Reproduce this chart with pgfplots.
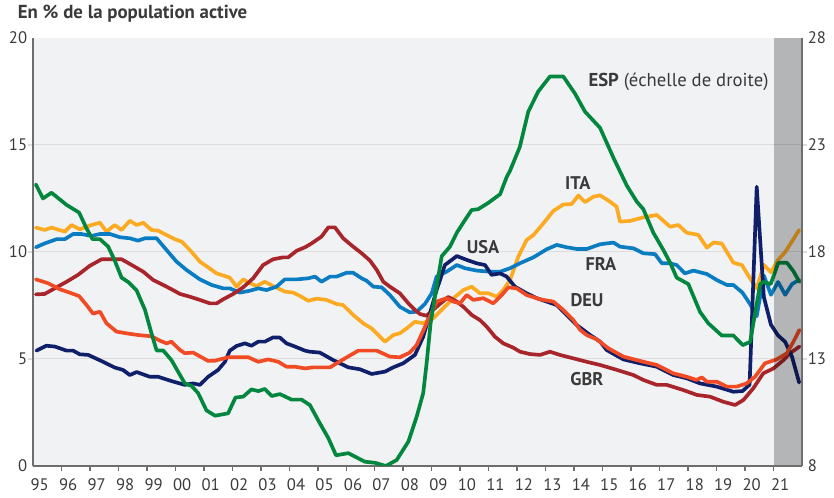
\documentclass[border=0pt]{standalone}
\usepackage{fontspec}
\setmainfont{PT Sans}
\usepackage{pgfplots}
\pgfplotsset{compat=1.18}

\definecolor{ita}{HTML}{FBAA22}
\definecolor{fra}{HTML}{0A7CC1}
\definecolor{usa}{HTML}{101F6A}
\definecolor{redor}{HTML}{F04B24}
\definecolor{dred}{HTML}{A8252B}
\definecolor{esp}{HTML}{03873F}
\definecolor{bgc}{HTML}{F1F2F4}
\definecolor{axisc}{HTML}{6E6E70}
\definecolor{gridc}{HTML}{DCDCDE}
\definecolor{labc}{HTML}{3A3A3A}

\tikzset{lab/.style={text=labc, font=\bfseries\fontsize{11}{13}\selectfont}}

\begin{document}
\begin{tikzpicture}
\useasboundingbox (-19.8pt,-19.2pt) rectangle (480.6pt,279.6pt);
\pgfplotsset{
  every axis/.append style={
    scale only axis, width=461.4pt, height=256.8pt,
    xmin=1995, xmax=2022,
    /pgf/number format/assume math mode=true,
    tick label style={font=\fontsize{10}{12}\selectfont, text=labc},
    major tick length=0pt, minor tick length=3pt, tick align=outside,
    axis line style={-, draw=axisc, line width=1.4pt},
  },
  series/.style={line width=2.2pt, line join=round, line cap=round, no marks},
}

\begin{axis}[
  axis x line*=bottom, axis y line*=left,
  axis background/.style={fill=bgc},
  ymin=0, ymax=20,
  ytick={0,5,10,15,20},
  minor ytick={5,10,15},
  yminorgrids=true,
  minor grid style={draw=gridc, line width=0.6pt},
  ytick style={draw=gridc, line width=0.8pt},
  xtick style={draw=axisc, line width=0.9pt},
  xtick={1995.5,1996.5,...,2021.5},
  xticklabels={95,96,97,98,99,00,01,02,03,04,05,06,07,08,09,10,11,12,13,14,15,16,17,18,19,20,21},
  minor xtick={1996,1997,...,2021},
  xticklabel style={yshift=-4pt, xshift=-4.5pt},
]
% ITA
\addplot[series, ita] coordinates {
(1995.10,11.14)(1995.41,11.03)(1995.65,11.14)(1996.12,10.95)(1996.35,11.26)(1996.64,11.06)
(1997.05,11.26)(1997.35,11.37)(1997.58,10.95)(1997.87,11.26)(1998.11,11.03)(1998.40,11.46)
(1998.64,11.26)(1998.87,11.37)(1999.16,11.03)(1999.39,11.00)(1999.69,10.79)(1999.98,10.60)
(2000.22,10.48)(2000.51,10.09)(2000.86,9.55)(2001.15,9.28)(2001.45,9.00)(2001.91,8.80)
(2002.15,8.38)(2002.38,8.72)(2002.61,8.54)(2002.85,8.41)(2003.14,8.61)(2003.43,8.41)
(2003.84,8.15)(2004.14,8.10)(2004.37,7.95)(2004.66,7.72)(2004.96,7.82)(2005.31,7.76)
(2005.66,7.57)(2005.89,7.52)(2006.24,7.06)(2006.59,6.67)(2006.89,6.43)(2007.12,6.12)
(2007.36,5.81)(2007.65,6.12)(2007.88,6.20)(2008.12,6.43)(2008.41,6.74)(2008.70,6.67)
(2009.05,6.90)(2009.40,7.37)(2009.76,7.84)(2010.11,8.22)(2010.40,8.38)(2010.69,8.07)
(2010.99,8.07)(2011.28,7.91)(2011.51,8.22)(2011.75,8.69)(2012.04,9.78)(2012.33,10.56)
(2012.57,10.79)(2012.92,11.34)(2013.27,11.92)(2013.62,12.22)(2013.91,12.24)(2014.15,12.64)
(2014.38,12.33)(2014.67,12.58)(2014.91,12.65)(2015.26,12.35)(2015.49,12.12)(2015.61,11.42)
(2015.96,11.45)(2016.43,11.62)(2016.90,11.73)(2017.37,11.18)(2017.66,11.26)(2017.95,10.90)
(2018.36,10.80)(2018.66,10.20)(2018.89,10.44)(2019.18,10.40)(2019.59,9.50)(2019.89,9.39)
(2020.16,8.80)(2020.41,8.30)(2020.66,9.40)(2020.91,9.05)(2021.16,9.63)(2021.41,10.00)
(2021.65,10.50)(2021.90,11.03)};
% FRA
\addplot[series, fra] coordinates {
(1995.10,10.22)(1995.41,10.40)(1995.83,10.60)(1996.12,10.60)(1996.41,10.84)(1996.70,10.84)
(1997.05,10.75)(1997.35,10.84)(1997.70,10.84)(1998.05,10.69)(1998.40,10.64)(1998.69,10.53)
(1998.93,10.64)(1999.34,10.64)(1999.69,10.09)(2000.04,9.55)(2000.39,9.16)(2000.86,8.72)
(2001.27,8.46)(2001.68,8.30)(2001.91,8.30)(2002.26,8.10)(2002.61,8.19)(2002.91,8.30)
(2003.20,8.22)(2003.55,8.38)(2003.84,8.72)(2004.26,8.72)(2004.66,8.77)(2004.90,8.85)
(2005.13,8.61)(2005.43,8.85)(2005.66,8.85)(2006.01,9.03)(2006.24,9.03)(2006.54,8.77)
(2006.71,8.66)(2006.95,8.38)(2007.24,8.35)(2007.53,7.99)(2007.88,7.44)(2008.23,7.18)
(2008.47,7.21)(2008.76,7.57)(2009.00,8.07)(2009.17,8.85)(2009.52,9.08)(2009.88,9.39)
(2010.17,9.24)(2010.58,9.13)(2011.04,9.08)(2011.40,9.08)(2011.75,9.24)(2012.09,9.47)
(2012.57,9.75)(2013.04,10.13)(2013.39,10.33)(2013.74,10.22)(2014.09,10.14)(2014.44,10.14)
(2014.91,10.36)(2015.38,10.44)(2015.61,10.25)(2016.08,10.17)(2016.43,9.94)(2016.84,9.90)
(2017.08,9.47)(2017.37,9.47)(2017.60,9.39)(2017.89,9.00)(2018.19,9.13)(2018.66,8.97)
(2019.01,8.69)(2019.36,8.46)(2019.59,8.46)(2019.91,8.10)(2020.16,7.60)(2020.41,7.00)
(2020.66,8.90)(2020.91,8.00)(2021.16,8.60)(2021.41,8.00)(2021.65,8.50)(2021.90,8.70)};
% dark red
\addplot[series, dred] coordinates {
(1995.10,8.02)(1995.41,8.04)(1995.83,8.35)(1996.18,8.61)(1996.58,8.93)(1996.99,9.35)
(1997.41,9.66)(1997.76,9.66)(1998.11,9.66)(1998.52,9.35)(1998.87,9.08)(1999.22,8.69)
(1999.57,8.46)(1999.86,8.26)(2000.16,8.04)(2000.51,7.91)(2000.86,7.76)(2001.21,7.60)
(2001.45,7.60)(2001.68,7.79)(2002.03,8.04)(2002.38,8.35)(2002.73,8.77)(2003.08,9.39)
(2003.43,9.66)(2003.78,9.75)(2003.96,9.75)(2004.26,10.06)(2004.55,10.22)(2004.78,10.40)
(2005.13,10.72)(2005.37,11.15)(2005.60,11.15)(2005.89,10.64)(2006.24,10.25)(2006.54,9.94)
(2006.83,9.60)(2007.07,9.16)(2007.30,8.61)(2007.53,8.38)(2007.88,8.07)(2008.18,7.60)
(2008.41,7.29)(2008.59,7.10)(2008.82,7.02)(2009.17,7.44)(2009.58,7.90)(2009.88,7.68)
(2010.11,7.44)(2010.40,7.06)(2010.69,6.82)(2010.93,6.51)(2011.22,6.04)(2011.51,5.73)
(2011.86,5.53)(2012.10,5.34)(2012.45,5.23)(2012.80,5.19)(2013.15,5.34)(2013.50,5.19)
(2013.97,5.03)(2014.44,4.87)(2014.91,4.72)(2015.50,4.49)(2016.08,4.25)(2016.43,4.02)
(2016.90,3.79)(2017.25,3.79)(2017.83,3.55)(2018.31,3.32)(2018.77,3.24)(2019.24,3.00)
(2019.65,2.85)(2019.94,3.08)(2020.29,3.63)(2020.64,4.33)(2021.00,4.56)(2021.35,4.95)
(2021.58,5.27)(2021.91,5.58)};
% USA
\addplot[series, usa] coordinates {
(1995.12,5.39)(1995.47,5.62)(1995.77,5.58)(1996.18,5.39)(1996.41,5.39)(1996.64,5.22)
(1996.94,5.19)(1997.46,4.87)(1997.87,4.60)(1998.16,4.49)(1998.40,4.25)(1998.64,4.39)
(1999.10,4.17)(1999.39,4.17)(1999.86,3.97)(2000.33,3.79)(2000.62,3.86)(2000.86,3.79)
(2001.15,4.17)(2001.50,4.49)(2001.74,4.87)(2001.91,5.39)(2002.15,5.61)(2002.44,5.73)
(2002.67,5.62)(2002.91,5.81)(2003.14,5.81)(2003.43,6.01)(2003.67,6.00)(2003.90,5.73)
(2004.20,5.58)(2004.55,5.39)(2004.72,5.34)(2005.07,5.30)(2005.54,4.95)(2006.07,4.61)
(2006.48,4.52)(2006.89,4.30)(2007.36,4.41)(2007.65,4.61)(2008.00,4.80)(2008.41,5.19)
(2008.70,6.04)(2008.94,7.14)(2009.17,8.22)(2009.29,8.69)(2009.46,9.39)(2009.88,9.81)
(2010.23,9.63)(2010.58,9.47)(2010.87,9.39)(2011.10,8.93)(2011.40,9.00)(2011.63,8.85)
(2011.92,8.38)(2012.33,8.07)(2012.69,7.84)(2013.04,7.68)(2013.39,7.52)(2013.74,7.06)
(2014.09,6.59)(2014.56,6.12)(2014.91,5.81)(2015.14,5.42)(2015.73,4.98)(2016.31,4.80)
(2016.90,4.64)(2017.48,4.25)(2017.95,4.10)(2018.42,3.86)(2019.00,3.71)(2019.59,3.47)
(2019.91,3.50)(2020.16,3.80)(2020.41,13.05)(2020.66,7.90)(2020.91,6.60)(2021.16,6.10)
(2021.41,5.80)(2021.65,5.10)(2021.90,3.90)};
% red-orange
\addplot[series, redor] coordinates {
(1995.10,8.72)(1995.53,8.54)(1995.94,8.26)(1996.29,8.10)(1996.62,7.94)(1996.88,7.52)
(1997.11,7.12)(1997.35,7.21)(1997.58,6.67)(1997.93,6.28)(1998.28,6.20)(1998.69,6.12)
(1999.16,6.06)(1999.45,5.86)(1999.69,5.73)(1999.86,5.81)(2000.16,5.42)(2000.33,5.27)
(2000.62,5.30)(2001.15,4.91)(2001.39,4.92)(2001.85,5.08)(2002.20,5.08)(2002.56,5.08)
(2002.91,4.87)(2003.26,4.98)(2003.61,4.87)(2003.90,4.64)(2004.20,4.64)(2004.55,4.56)
(2004.84,4.61)(2005.43,4.61)(2005.89,4.98)(2006.42,5.39)(2007.07,5.39)(2007.53,5.11)
(2007.88,5.08)(2008.23,5.30)(2008.47,5.65)(2008.82,6.67)(2009.17,7.68)(2009.52,7.84)
(2009.76,7.68)(2009.99,7.60)(2010.23,7.99)(2010.46,7.76)(2010.81,7.84)(2011.16,7.60)
(2011.46,7.99)(2011.69,8.35)(2011.98,8.30)(2012.33,7.99)(2012.80,7.79)(2013.27,7.68)
(2013.62,7.29)(2013.97,6.82)(2014.21,6.36)(2014.44,6.12)(2014.79,5.92)(2015.20,5.50)
(2015.73,5.11)(2016.43,4.87)(2016.90,4.72)(2017.48,4.33)(2017.95,4.17)(2018.30,4.02)
(2018.48,4.14)(2018.66,3.94)(2019.01,3.94)(2019.36,3.71)(2019.71,3.71)(2020.06,3.86)
(2020.35,4.17)(2020.70,4.80)(2021.11,4.98)(2021.47,5.27)(2021.70,5.81)(2021.91,6.36)};

\node[anchor=west, text=labc, font=\fontsize{11.2}{13}\selectfont] at (axis cs:2014.3,17.95) {\textbf{ESP} (échelle de droite)};
\node[lab] at (axis cs:2014.13,13.22) {ITA};
\node[lab] at (axis cs:2010.8,10.23) {USA};
\node[lab] at (axis cs:2014.94,9.44) {FRA};
\node[lab] at (axis cs:2014.45,7.76) {DEU};
\node[lab] at (axis cs:2014.45,4.07) {GBR};
\end{axis}

\begin{axis}[
  axis y line*=right, axis x line=none,
  ymin=8, ymax=28,
  ytick={8,13,18,23,28},
  minor ytick={13,18,23},
  ytick style={draw=gridc, line width=0.8pt},
  xtick=\empty,
]
% ESP, right-hand scale
\addplot[series, esp] coordinates {
(1995.10,21.16)(1995.35,20.50)(1995.65,20.77)(1996.18,20.20)(1996.62,19.84)(1996.88,19.10)
(1997.09,18.60)(1997.35,18.60)(1997.64,18.25)(1997.87,17.60)(1998.11,16.80)(1998.34,16.60)
(1998.64,16.20)(1998.93,15.30)(1999.16,14.20)(1999.34,13.40)(1999.57,13.40)(1999.86,12.95)
(2000.33,11.86)(2000.57,11.74)(2000.80,11.40)(2001.09,10.60)(2001.39,10.35)(2001.85,10.46)
(2002.11,11.20)(2002.38,11.24)(2002.67,11.58)(2002.91,11.50)(2003.14,11.60)(2003.38,11.27)
(2003.67,11.36)(2004.08,11.10)(2004.43,11.10)(2004.72,10.85)(2005.07,10.00)(2005.37,9.30)
(2005.64,8.50)(2006.07,8.60)(2006.65,8.20)(2007.01,8.15)(2007.39,8.00)(2007.77,8.28)
(2008.18,9.14)(2008.47,10.30)(2008.70,11.40)(2008.82,12.80)(2008.96,14.67)(2009.11,15.90)
(2009.35,17.80)(2009.64,18.25)(2009.88,18.90)(2010.17,19.50)(2010.40,19.96)(2010.63,20.00)
(2010.99,20.30)(2011.40,20.70)(2011.63,21.50)(2011.75,21.80)(2012.09,22.90)(2012.39,24.56)
(2012.74,25.50)(2013.15,26.20)(2013.62,26.20)(2014.03,25.40)(2014.38,24.56)(2014.91,23.80)
(2015.38,22.40)(2015.85,21.10)(2016.20,20.35)(2016.43,20.00)(2016.78,18.90)(2017.13,18.10)
(2017.37,17.50)(2017.60,16.80)(2018.01,16.50)(2018.42,15.20)(2018.71,14.67)(2019.18,14.10)
(2019.59,14.10)(2019.92,13.65)(2020.18,13.80)(2020.53,16.50)(2020.64,16.60)(2020.90,16.50)
(2021.17,17.50)(2021.47,17.50)(2021.70,17.10)(2021.91,16.60)};
% forecast band
\fill[black, opacity=0.25] (axis cs:2021,8.055) rectangle (axis cs:2021.959,28);
\end{axis}

\node[anchor=west, text=labc, font=\bfseries\fontsize{11.3}{13}\selectfont] at (-12.6pt,271.2pt) {En \% de la population active};
\end{tikzpicture}
\end{document}
